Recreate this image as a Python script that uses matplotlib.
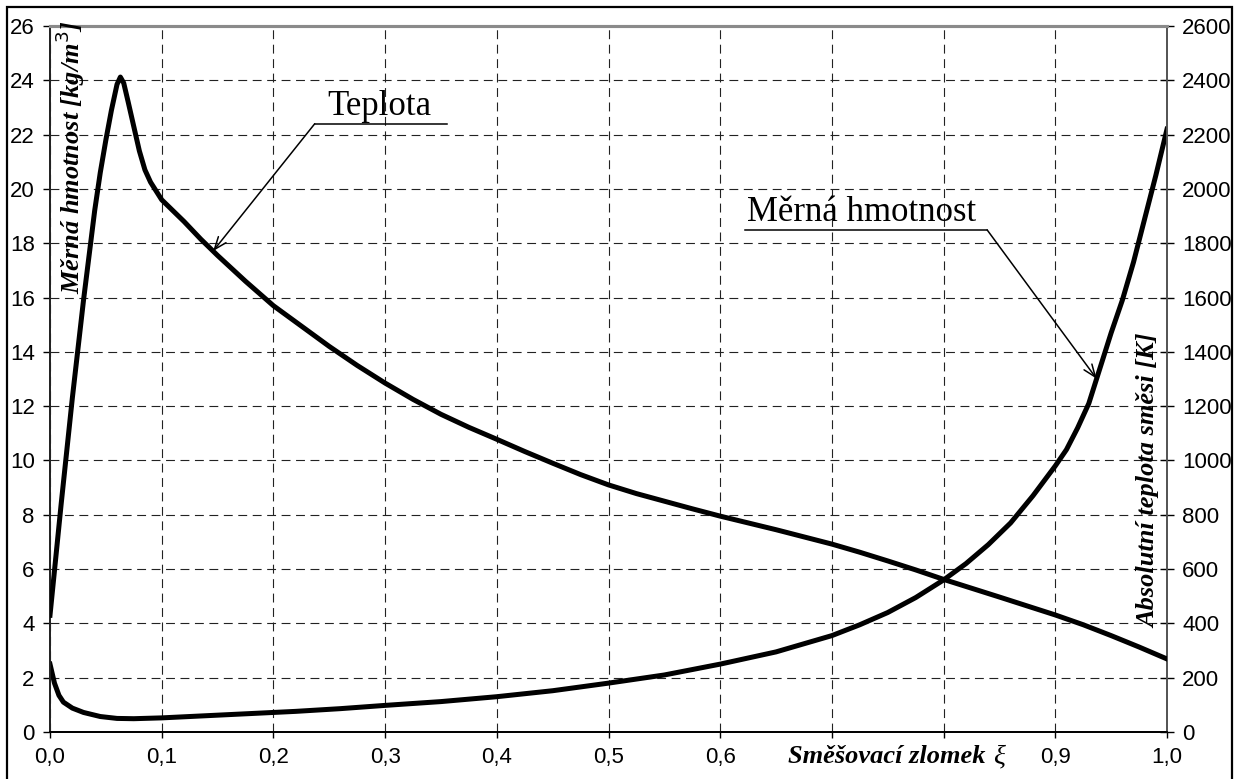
import numpy as np
import matplotlib.pyplot as plt
from matplotlib.patches import Rectangle

# mixture fraction and the two curves read along it
xi_rho = [0.0, 0.004, 0.008, 0.012, 0.02, 0.03, 0.045, 0.06, 0.075, 0.1, 0.14, 0.18,
          0.22, 0.26, 0.3, 0.35, 0.4, 0.45, 0.5, 0.55, 0.6, 0.65, 0.7, 0.725, 0.75,
          0.775, 0.8, 0.82, 0.84, 0.86, 0.88, 0.9, 0.91, 0.92, 0.93, 0.94, 0.95,
          0.96, 0.97, 0.98, 0.99, 1.0]
rho = [2.5, 1.8, 1.35, 1.1, 0.88, 0.72, 0.57, 0.5, 0.49, 0.52, 0.6, 0.68,
       0.76, 0.86, 0.98, 1.12, 1.3, 1.52, 1.8, 2.1, 2.5, 2.95, 3.55, 3.95, 4.4,
       4.95, 5.6, 6.2, 6.9, 7.7, 8.7, 9.8, 10.4, 11.2, 12.1, 13.4, 14.7,
       15.9, 17.3, 18.9, 20.5, 22.2]

xi_T = [0.0, 0.01, 0.02, 0.03, 0.04, 0.045, 0.05, 0.055, 0.06, 0.063, 0.066, 0.07,
        0.075, 0.08, 0.085, 0.09, 0.1, 0.11, 0.12, 0.135, 0.15, 0.175, 0.2, 0.225,
        0.25, 0.275, 0.3, 0.325, 0.35, 0.375, 0.4, 0.425, 0.45, 0.475, 0.5, 0.525,
        0.55, 0.575, 0.6, 0.65, 0.7, 0.725, 0.75, 0.775, 0.8, 0.85, 0.9, 0.925,
        0.95, 0.975, 1.0]
T = [430, 840, 1230, 1590, 1920, 2060, 2180, 2290, 2385, 2412, 2390, 2320,
     2230, 2140, 2070, 2025, 1960, 1920, 1880, 1815, 1755, 1660, 1570, 1495,
     1420, 1350, 1285, 1225, 1170, 1122, 1078, 1033, 990, 948, 910, 878,
     850, 822, 795, 745, 692, 662, 630, 597, 562, 497, 431, 395,
     355, 313, 269]

x_ticks = np.round(np.arange(0, 1.01, 0.1), 1)
# 0,7 and 0,8 sit under the axis title and are left blank
x_labels = ['0,0', '0,1', '0,2', '0,3', '0,4', '0,5', '0,6', '', '', '0,9', '1,0']
rho_ticks = np.arange(0, 27, 2)
T_ticks = np.arange(0, 2601, 200)

serif = 'Liberation Serif'
sans = 'Liberation Sans'
plt.rcParams['font.family'] = sans

fig = plt.figure(figsize=(12.36, 7.79), dpi=100)
ax = fig.add_axes([50/1236, 1 - 732/779, 1117/1236, 706/779])
ax2 = ax.twinx()

ax.set_xlim(0, 1)
ax.set_ylim(0, 26)
ax2.set_ylim(0, 2600)

ax.set_xticks(x_ticks)
ax.set_xticklabels(x_labels)
ax.set_yticks(rho_ticks)
ax2.set_yticks(T_ticks)

ax.grid(True, color='#222222', lw=0.8, linestyle=(0, (8, 5)))
ax.set_axisbelow(True)

ax.tick_params(axis='x', direction='out', length=4, width=1, pad=7, labelsize=16)
ax.tick_params(axis='y', direction='out', length=5, width=1, pad=6, labelsize=16)
ax2.tick_params(axis='y', direction='inout', length=10, width=1, pad=6, labelsize=16)

for a in (ax, ax2):
    a.spines['left'].set_color('#222222')
    a.spines['bottom'].set_color('black')
    a.spines['top'].set_color('#8a8a8a')
    a.spines['top'].set_linewidth(2.2)
    a.spines['right'].set_color('#555555')
    a.spines['right'].set_linewidth(1.3)
    a.spines['left'].set_linewidth(1.3)
    a.spines['bottom'].set_linewidth(1.3)

ax.plot(xi_rho, rho, color='black', lw=3.6, solid_joinstyle='round', zorder=3)
ax2.plot(xi_T, T, color='black', lw=3.6, solid_joinstyle='round', zorder=3)

arrow = dict(arrowstyle='->,head_length=0.9,head_width=0.35', lw=1.1,
             color='black', shrinkA=0, shrinkB=0)

# Teplota callout on the temperature axis
tip_x = 0.146
ax2.plot([0.237, 0.355], [2240, 2240], color='black', lw=1.1)
ax2.annotate('', xy=(tip_x, np.interp(tip_x, xi_T, T)), xytext=(0.237, 2240),
             arrowprops=arrow)
ax2.text(0.248, 2273, 'Teplota', family=serif, fontsize=25,
         ha='left', va='baseline')

# Měrná hmotnost callout on the density axis
tip_x = 0.937
ax.plot([0.622, 0.839], [18.49, 18.49], color='black', lw=1.1)
ax.annotate('', xy=(tip_x, np.interp(tip_x, xi_rho, rho)), xytext=(0.839, 18.49),
            arrowprops=arrow)
ax.text(0.624, 18.82, 'Měrná hmotnost', family=serif, fontsize=25,
        ha='left', va='baseline')

# axis titles sit inside the plot frame
fig.text(70/1236, 1 - 20/779, 'Měrná hmotnost [kg/m$^{3}$]', family=serif,
         fontsize=19, fontweight='bold', style='italic', rotation=90,
         ha='center', va='top')
fig.text(1149/1236, 1 - 481/779, 'Absolutní teplota směsi [K]', family=serif,
         fontsize=19, fontweight='bold', style='italic', rotation=90,
         ha='center', va='center')
fig.text(986/1236, 1 - 763/779, 'Směšovací zlomek', family=serif,
         fontsize=19, fontweight='bold', style='italic',
         ha='right', va='baseline')
fig.text(993/1236, 1 - 763/779, 'ξ', family=serif,
         fontsize=20, style='italic', ha='left', va='baseline')

# frame around the whole figure
fig.add_artist(Rectangle((7/1236, -0.02), 1225/1236, 1.02 - 7/779,
                         transform=fig.transFigure, fill=False,
                         edgecolor='black', lw=1.6, clip_on=False))

fig.savefig('out.png', dpi=100)
